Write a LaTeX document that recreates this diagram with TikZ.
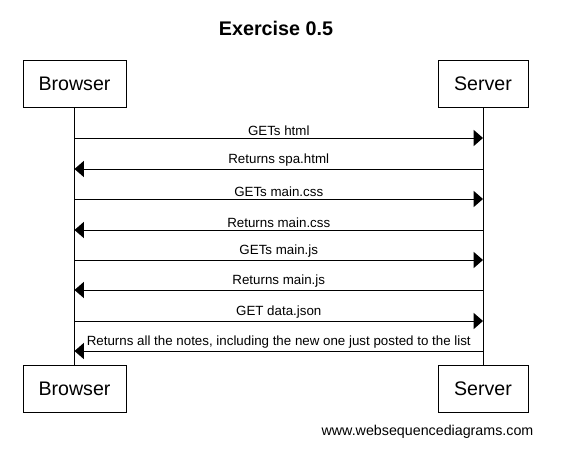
\documentclass[tikz,border=0pt]{standalone}
\usepackage{fontspec}
\setmainfont{Liberation Sans}
\usetikzlibrary{arrows.meta,positioning}

\tikzset{
	actor/.style={draw, line width=0.75pt, minimum height=35.25pt, inner sep=0pt, font=\fontsize{14.7}{16}\selectfont},
	msg/.style={line width=0.75pt, -{Triangle[length=7pt, width=12pt]}},
	msglabel/.style={midway, above=1.5pt, inner sep=0pt, font=\fontsize{10}{12}\selectfont}
}

\begin{document}
\begin{tikzpicture}[x=0.75pt, y=-0.75pt]
	\useasboundingbox (0,0) rectangle (573,467);
	\node[font=\bfseries\fontsize{14.8}{17}\selectfont] (title) at (276,28) {Exercise 0.5};
	% participants
	\node[actor, minimum width=77.25pt] (browserTop) at (74.5,83.5) {Browser};
	\node[actor, minimum width=67.5pt] (serverTop) at (483,83.5) {Server};
	\node[actor, minimum width=77.25pt] (browserBot) at (74.5,388.5) {Browser};
	\node[actor, minimum width=67.5pt] (serverBot) at (483,388.5) {Server};
	\draw[line width=0.75pt] (browserTop) -- (browserBot);
	\draw[line width=0.75pt] (serverTop) -- (serverBot);
	% message rows
	\foreach \i/\y in {1/138, 2/169, 3/199, 4/230, 5/260, 6/290, 7/321, 8/351} {
		\coordinate (b\i) at (74.5,\y);
		\coordinate (s\i) at (483,\y);
	}
	\draw[msg] (b1) -- (s1) node[msglabel] {GETs html};
	\draw[msg] (s2) -- (b2) node[msglabel] {Returns spa.html};
	\draw[msg] (b3) -- (s3) node[msglabel] {GETs main.css};
	\draw[msg] (s4) -- (b4) node[msglabel] {Returns main.css};
	\draw[msg] (b5) -- (s5) node[msglabel] {GETs main.js};
	\draw[msg] (s6) -- (b6) node[msglabel] {Returns main.js};
	\draw[msg] (b7) -- (s7) node[msglabel] {GET data.json};
	\draw[msg] (s8) -- (b8) node[msglabel] {Returns all the notes, including the new one just posted to the list};
	\node[font=\fontsize{10.7}{13}\selectfont] (footer) at (427.5,432) {www.websequencediagrams.com};
\end{tikzpicture}
\end{document}
